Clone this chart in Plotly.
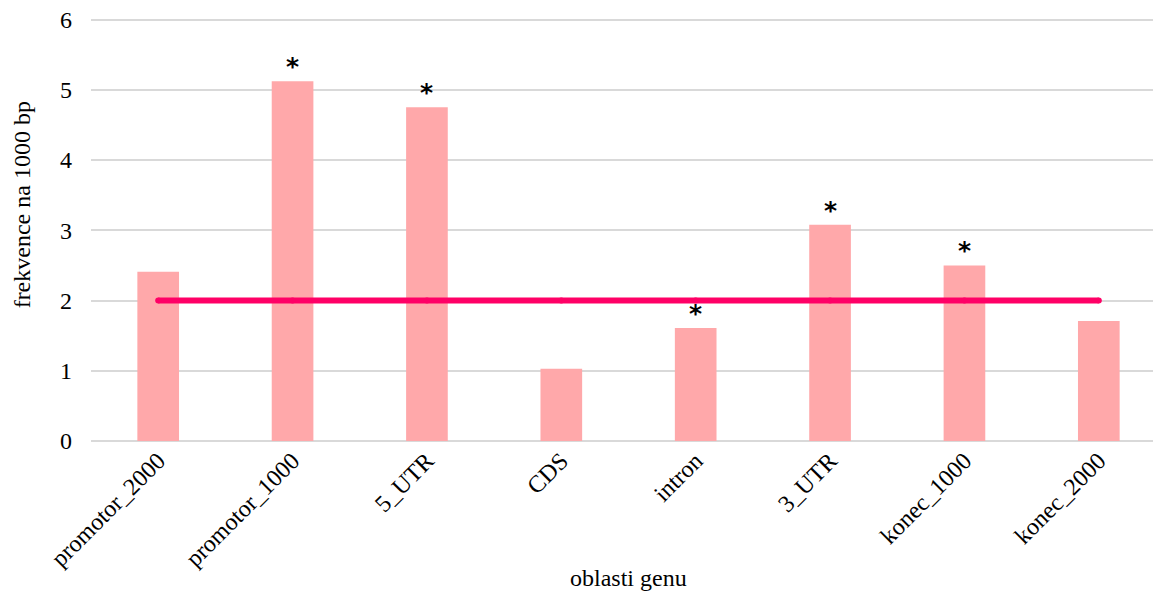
import plotly.graph_objects as go

categories = ["promotor_2000", "promotor_1000", "5_UTR", "CDS", "intron", "3_UTR", "konec_1000", "konec_2000"]
values = [2.41, 5.12, 4.75, 1.03, 1.61, 3.08, 2.50, 1.71]
baseline = [2, 2, 2, 2, 2, 2, 2, 2]
significant = [False, True, True, False, True, True, True, False]

font_family = "Liberation Serif, Times New Roman, serif"

fig = go.Figure()
fig.add_trace(go.Bar(x=categories, y=values, marker=dict(color="#FFA8AA", line=dict(width=0)),
                     width=0.31, showlegend=False))
fig.add_trace(go.Scatter(x=categories, y=baseline, mode="lines+markers",
                         line=dict(color="#FF0066", width=6),
                         marker=dict(color="#FF0066", size=6, symbol="circle"),
                         showlegend=False))

for c, v, s in zip(categories, values, significant):
    if s:
        fig.add_annotation(x=c, y=v, text="<b>*</b>", showarrow=False, yanchor="bottom",
                           yshift=-2, font=dict(family="DejaVu Sans", size=25, color="black"))

# axis titles
fig.add_annotation(text="oblasti genu", xref="paper", yref="paper", x=0.5, y=-0.3227,
                   xanchor="center", yanchor="middle", showarrow=False,
                   font=dict(family=font_family, size=24, color="black"))
fig.add_annotation(text="frekvence na 1000 bp", xref="paper", yref="paper", x=-0.0645,
                   y=0.556, textangle=-90, xanchor="center", yanchor="middle", showarrow=False,
                   font=dict(family=font_family, size=24, color="black"))

fig.update_layout(
    width=1161, height=591,
    margin=dict(l=83, r=3, t=8, b=158, autoexpand=False),
    plot_bgcolor="white", paper_bgcolor="white",
    font=dict(family=font_family, size=24, color="black"),
    xaxis=dict(tickangle=-45, showgrid=False, ticks="", showline=False, automargin=False,
               tickfont=dict(size=24)),
    yaxis=dict(range=[0, 6.05], tickvals=[0, 1, 2, 3, 4, 5, 6], showgrid=True,
               gridcolor="#d9d9d9", gridwidth=1.5,
               zeroline=True, zerolinecolor="#d9d9d9", zerolinewidth=1.5, automargin=False,
               ticks="", showline=False, tickfont=dict(size=24), ticklabelstandoff=18,
               ticklabeloverflow="allow"),
)

fig.write_html("out.html")
